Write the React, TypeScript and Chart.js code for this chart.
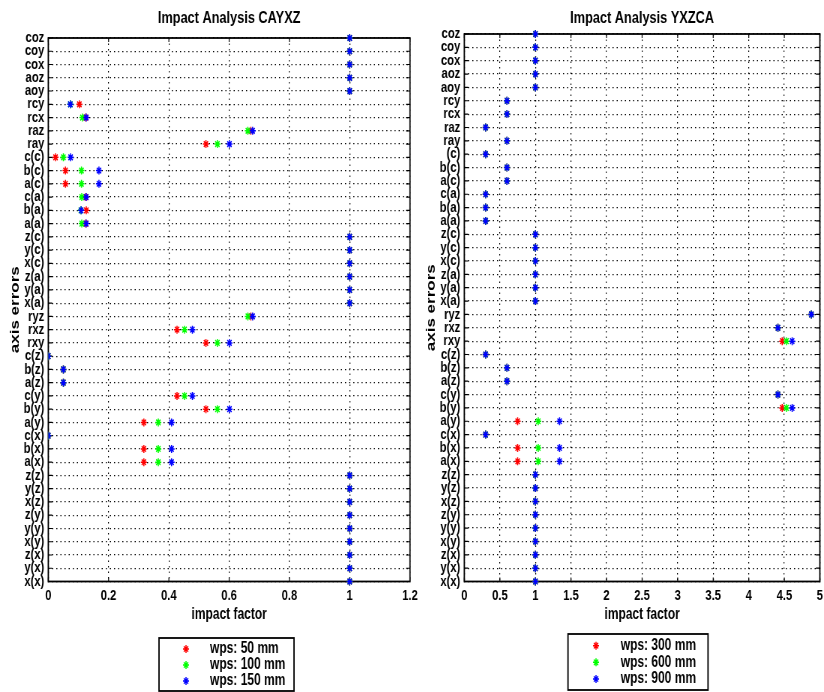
import React, { useEffect, useRef } from "react";
import { Chart, registerables } from "chart.js";

Chart.register(...registerables);

// ---------------- DATA ----------------
const leftCategories = [
  "coz", "coy", "cox", "aoz", "aoy", "rcy", "rcx", "raz", "ray",
  "c(c)", "b(c)", "a(c)", "c(a)", "b(a)", "a(a)",
  "z(c)", "y(c)", "x(c)", "z(a)", "y(a)", "x(a)",
  "ryz", "rxz", "rxy",
  "c(z)", "b(z)", "a(z)", "c(y)", "b(y)", "a(y)", "c(x)", "b(x)", "a(x)",
  "z(z)", "y(z)", "x(z)", "z(y)", "y(y)", "x(y)", "z(x)", "y(x)", "x(x)",
];
const rightCategories = [
  "coz", "coy", "cox", "aoz", "aoy", "rcy", "rcx", "raz", "ray",
  "(c)", "b(c)", "a(c)", "c(a)", "b(a)", "a(a)",
  "z(c)", "y(c)", "x(c)", "z(a)", "y(a)", "x(a)",
  "ryz", "rxz", "rxy",
  "c(z)", "b(z)", "a(z)", "c(y)", "b(y)", "a(y)", "c(x)", "b(x)", "a(x)",
  "z(z)", "y(z)", "x(z)", "z(y)", "y(y)", "x(y)", "z(x)", "y(x)", "x(x)",
];

const leftTitle = "Impact Analysis CAYXZ";
const rightTitle = "Impact Analysis YXZCA";
const xAxisTitle = "impact factor";
const yAxisTitle = "axis errors";

const leftXTicks = [0, 0.2, 0.4, 0.6, 0.8, 1, 1.2];
const rightXTicks = [0, 0.5, 1, 1.5, 2, 2.5, 3, 3.5, 4, 4.5, 5];

const leftSeriesNames = ["wps: 50 mm", "wps: 100 mm", "wps: 150 mm"];
const rightSeriesNames = ["wps: 300 mm", "wps: 600 mm", "wps: 900 mm"];

// CAYXZ, wps 50 mm
const left50 = [
  1, 1, 1, 1, 1, 0.103, 0.124, 0.672, 0.523,
  0.024, 0.057, 0.057, 0.124, 0.126, 0.124,
  1, 1, 1, 1, 1, 1,
  0.672, 0.427, 0.523,
  0, 0.05, 0.05, 0.427, 0.523, 0.317, 0, 0.317, 0.317,
  1, 1, 1, 1, 1, 1, 1, 1, 1,
];
// CAYXZ, wps 100 mm
const left100 = [
  1, 1, 1, 1, 1, 0.073, 0.113, 0.662, 0.561,
  0.05, 0.11, 0.11, 0.111, 0.108, 0.111,
  1, 1, 1, 1, 1, 1,
  0.662, 0.452, 0.561,
  0, 0.05, 0.05, 0.452, 0.561, 0.365, 0, 0.365, 0.365,
  1, 1, 1, 1, 1, 1, 1, 1, 1,
];
// CAYXZ, wps 150 mm
const left150 = [
  1, 1, 1, 1, 1, 0.073, 0.126, 0.678, 0.601,
  0.074, 0.168, 0.168, 0.126, 0.109, 0.126,
  1, 1, 1, 1, 1, 1,
  0.678, 0.478, 0.601,
  0, 0.05, 0.05, 0.478, 0.601, 0.409, 0, 0.409, 0.409,
  1, 1, 1, 1, 1, 1, 1, 1, 1,
];

// YXZCA, wps 300 mm
const right300 = [
  1, 1, 1, 1, 1, 0.6, 0.6, 0.3, 0.6,
  0.3, 0.6, 0.6, 0.3, 0.3, 0.3,
  1, 1, 1, 1, 1, 1,
  4.88, 4.41, 4.47,
  0.3, 0.6, 0.6, 4.41, 4.47, 0.75, 0.3, 0.75, 0.75,
  1, 1, 1, 1, 1, 1, 1, 1, 1,
];
// YXZCA, wps 600 mm
const right600 = [
  1, 1, 1, 1, 1, 0.6, 0.6, 0.3, 0.6,
  0.3, 0.6, 0.6, 0.3, 0.3, 0.3,
  1, 1, 1, 1, 1, 1,
  4.88, 4.41, 4.53,
  0.3, 0.6, 0.6, 4.41, 4.53, 1.04, 0.3, 1.04, 1.04,
  1, 1, 1, 1, 1, 1, 1, 1, 1,
];
// YXZCA, wps 900 mm
const right900 = [
  1, 1, 1, 1, 1, 0.6, 0.6, 0.3, 0.6,
  0.3, 0.6, 0.6, 0.3, 0.3, 0.3,
  1, 1, 1, 1, 1, 1,
  4.88, 4.41, 4.61,
  0.3, 0.6, 0.6, 4.41, 4.61, 1.34, 0.3, 1.34, 1.34,
  1, 1, 1, 1, 1, 1, 1, 1, 1,
];

const seriesColors = ["#ff0000", "#00ff00", "#0000ff"];

// ---------------- STYLE ----------------
const FONT = "'Liberation Sans', Arial, Helvetica, sans-serif";
// the figure is horizontally compressed: canvases are drawn wider and shown narrower
const SQ = 0.75;
const X = (cssPx: number) => cssPx / SQ;

function drawStar(ctx: CanvasRenderingContext2D, x: number, y: number, r: number, color: string) {
  ctx.save();
  ctx.strokeStyle = color;
  ctx.lineWidth = 1.5;
  ctx.beginPath();
  for (let k = 0; k < 4; k++) {
    const a = (k * Math.PI) / 4;
    const dx = Math.cos(a) * r;
    const dy = Math.sin(a) * r;
    ctx.moveTo(x - dx, y - dy);
    ctx.lineTo(x + dx, y + dy);
  }
  ctx.stroke();
  ctx.restore();
}

const framePlugin = {
  id: "frame",
  beforeDatasetsDraw(chart: any) {
    const { ctx, chartArea, scales } = chart;
    const { left, right, top, bottom } = chartArea;
    ctx.save();
    ctx.strokeStyle = "#000";
    ctx.lineWidth = 1.2;
    ctx.beginPath();
    // inward tick marks (x)
    scales.x.ticks.forEach((t: any) => {
      const px = scales.x.getPixelForValue(t.value);
      ctx.moveTo(px, bottom);
      ctx.lineTo(px, bottom - 4);
      ctx.moveTo(px, top);
      ctx.lineTo(px, top + 4);
    });
    // inward tick marks (y)
    scales.y.ticks.forEach((_t: any, i: number) => {
      const py = scales.y.getPixelForTick(i);
      ctx.moveTo(left, py);
      ctx.lineTo(left + X(4), py);
      ctx.moveTo(right, py);
      ctx.lineTo(right - X(4), py);
    });
    ctx.stroke();
    ctx.lineWidth = 1.8;
    ctx.strokeRect(left, top, right - left, bottom - top);
    ctx.restore();
  },
};

const boxLegendPlugin = {
  id: "boxLegend",
  afterDraw(chart: any, _args: any, opts: any) {
    if (!opts || !opts.box) return;
    const { ctx } = chart;
    const [bx, by, bw, bh] = opts.box;
    ctx.save();
    ctx.strokeStyle = "#000";
    ctx.lineWidth = 1.8;
    ctx.strokeRect(bx, by, bw, bh);
    ctx.font = `bold ${opts.fontSize}px ${FONT}`;
    ctx.fillStyle = "#000";
    ctx.textBaseline = "middle";
    ctx.textAlign = "left";
    chart.data.datasets.forEach((ds: any, i: number) => {
      const y = opts.rows[i];
      drawStar(ctx, opts.markerX, y, 4, ds.borderColor);
      ctx.fillText(ds.label, opts.textX, y);
    });
    ctx.restore();
  },
};

function makeConfig(p: {
  categories: string[];
  series: number[][];
  names: string[];
  title: string;
  xTicks: number[];
  xMax: number;
  titlePadBottom: number;
  padRight: number;
  legend: any;
}) {
  const datasets = p.series.map((vals, si) => ({
    label: p.names[si],
    data: vals.map((v, i) => ({ x: v, y: p.categories[i] })),
    borderColor: seriesColors[si],
    backgroundColor: seriesColors[si],
    pointStyle: "star",
    pointRadius: 4,
    pointHoverRadius: 4,
    borderWidth: 1.5,
    showLine: false,
    order: 3 - si,
  }));
  const grid = {
    color: "#000",
    lineWidth: 1.2,
    drawTicks: false,
  };
  return {
    type: "scatter",
    data: { datasets },
    options: {
      responsive: false,
      maintainAspectRatio: false,
      animation: false,
      events: [],
      layout: { padding: { left: 0, right: p.padRight, top: 0, bottom: 67.4 } },
      plugins: {
        legend: { display: false },
        tooltip: { enabled: false },
        title: {
          display: true,
          text: p.title,
          color: "#000",
          fullSize: false,
          font: { family: FONT, size: 17, weight: "bold", lineHeight: 1.2 },
          padding: { top: 8.3, bottom: p.titlePadBottom },
        },
        boxLegend: p.legend,
      },
      scales: {
        x: {
          type: "linear",
          min: 0,
          max: p.xMax,
          grid,
          border: { display: false, dash: [1.5, 4] },
          afterBuildTicks(scale: any) {
            scale.ticks = p.xTicks.map((v) => ({ value: v }));
          },
          afterFit(scale: any) {
            scale.height = 43.1;
            scale.paddingLeft = 0;
            scale.paddingRight = 0;
          },
          ticks: {
            autoSkip: false,
            maxRotation: 0,
            padding: 5.5,
            color: "#000",
            font: { family: FONT, size: 15, weight: "bold" },
            callback: (v: any) => String(v),
          },
          title: {
            display: true,
            text: xAxisTitle,
            color: "#000",
            font: { family: FONT, size: 16, weight: "bold", lineHeight: 1.2 },
            padding: { top: 0, bottom: 0 },
          },
        },
        y: {
          type: "category",
          labels: p.categories,
          offset: false,
          grid,
          border: { display: false, dash: [1.5, 4] },
          afterFit(scale: any) {
            scale.width = X(48.3);
            scale.paddingTop = 0;
            scale.paddingBottom = 0;
          },
          ticks: {
            autoSkip: false,
            padding: X(4),
            color: "#000",
            font: { family: FONT, size: 15, weight: "bold" },
          },
          title: {
            display: true,
            text: yAxisTitle,
            color: "#000",
            font: { family: FONT, size: 17, weight: "bold", lineHeight: 1.2 },
            padding: { top: X(15.5) - 10.2, bottom: 0 },
          },
        },
      },
    },
    plugins: [framePlugin, boxLegendPlugin],
  };
}

function ChartCanvas({ config, cssWidth, height, left }: { config: any; cssWidth: number; height: number; left: number }) {
  const ref = useRef<HTMLCanvasElement | null>(null);
  useEffect(() => {
    if (!ref.current) return;
    const chart = new Chart(ref.current, config);
    return () => chart.destroy();
  }, [config]);
  return (
    <canvas
      ref={ref}
      width={Math.round(X(cssWidth))}
      height={height}
      style={{ position: "absolute", left, top: 0, width: cssWidth, height, display: "block" }}
    />
  );
}

const LEFT_CSS_W = 429;
const RIGHT_CSS_W = 408;

const leftConfig = makeConfig({
  categories: leftCategories,
  series: [left50, left100, left150],
  names: leftSeriesNames,
  title: leftTitle,
  xTicks: leftXTicks,
  xMax: 1.2,
  titlePadBottom: 9.3,
  padRight: Math.round(X(LEFT_CSS_W)) - X(410),
  legend: { box: [X(159), 638, X(135), 53], markerX: X(186), textX: X(210), rows: [649, 665, 681], fontSize: 16 },
});

const rightConfig = makeConfig({
  categories: rightCategories,
  series: [right300, right600, right900],
  names: rightSeriesNames,
  title: rightTitle,
  xTicks: rightXTicks,
  xMax: 5,
  titlePadBottom: 5.3,
  padRight: Math.round(X(RIGHT_CSS_W)) - X(405.8),
  legend: { box: [X(152), 634, X(140), 56], markerX: X(180), textX: X(204.7), rows: [645.7, 662.3, 679], fontSize: 16 },
});

export default function App() {
  return (
    <div style={{ position: "absolute", left: 0, top: 0, width: 824, height: 692, background: "#fff" }}>
      <ChartCanvas config={leftConfig} cssWidth={LEFT_CSS_W} height={692} left={0} />
      <ChartCanvas config={rightConfig} cssWidth={RIGHT_CSS_W} height={692} left={416} />
    </div>
  );
}
